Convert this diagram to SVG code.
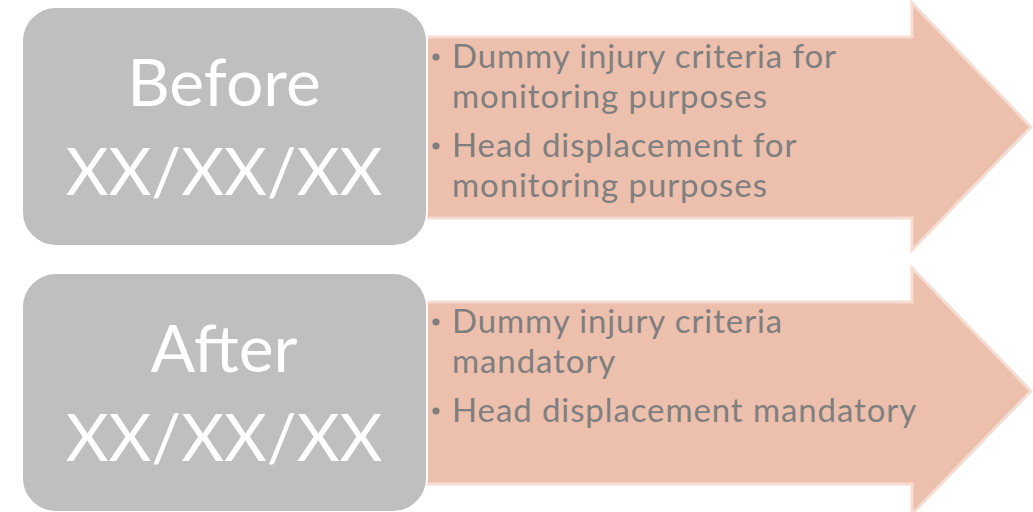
<svg xmlns="http://www.w3.org/2000/svg" width="1033" height="512" viewBox="0 0 1033 512">
<style>
.arrow{fill:#edbfad;stroke:#f6dcd1;stroke-width:3}
.box{fill:#bfbfbf;stroke:#ffffff;stroke-width:2}
.big{font-family:Lato,"Open Sans",sans-serif;font-size:66px;fill:#ffffff;text-anchor:middle}
.bul{font-family:Lato,"Open Sans",sans-serif;font-size:33px;letter-spacing:0.9px;fill:#7f7f7f}
.dot{fill:#7f7f7f}
</style>
<rect width="1033" height="512" fill="#ffffff"/>
<g id="connectors">
<path id="arrow1" class="arrow" d="M420,37 L912,37 L912,3 L1031,127 L912,250 L912,218 L420,218 Z"/>
<path id="arrow2" class="arrow" d="M420,302 L912,302 L912,268 L1031,391 L912,514 L912,484 L420,484 Z"/>
</g>
<g id="before">
<rect class="box" x="22" y="7" width="405" height="239" rx="34"/>
<text class="big" x="224" y="106">Before</text>
<text class="big" x="224" y="195">XX/XX/XX</text>
</g>
<g id="after">
<rect class="box" x="22" y="273" width="405" height="239" rx="34"/>
<text class="big" x="224" y="372">After</text>
<text class="big" x="224" y="461">XX/XX/XX</text>
</g>
<g id="before-notes">
<circle class="dot" cx="436" cy="57" r="3.6"/>
<text class="bul" x="452" y="68">Dummy injury criteria for</text>
<text class="bul" x="452" y="108">monitoring purposes</text>
<circle class="dot" cx="436" cy="146" r="3.6"/>
<text class="bul" x="452" y="157">Head displacement for</text>
<text class="bul" x="452" y="197">monitoring purposes</text>
</g>
<g id="after-notes">
<circle class="dot" cx="436" cy="322" r="3.6"/>
<text class="bul" x="452" y="333">Dummy injury criteria</text>
<text class="bul" x="452" y="373">mandatory</text>
<circle class="dot" cx="436" cy="411" r="3.6"/>
<text class="bul" x="452" y="422">Head displacement mandatory</text>
</g>
</svg>
